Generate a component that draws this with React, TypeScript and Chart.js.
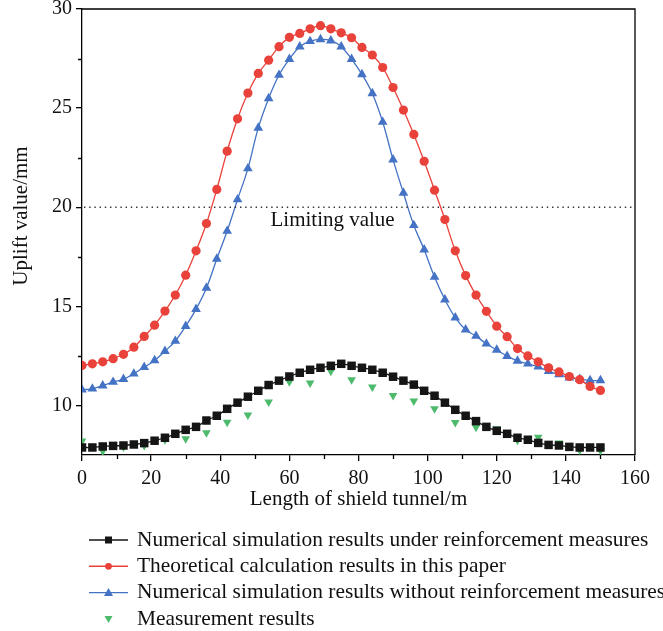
import React, { useEffect, useRef } from "react";
import { Chart, registerables } from "chart.js";

Chart.register(...registerables);

// ---- data ----
const distance = [
  0, 3, 6, 9, 12, 15, 18, 21, 24, 27, 30, 33, 36, 39, 42, 45, 48, 51, 54, 57,
  60, 63, 66, 69, 72, 75, 78, 81, 84, 87, 90, 93, 96, 99, 102, 105, 108, 111,
  114, 117, 120, 123, 126, 129, 132, 135, 138, 141, 144, 147, 150,
];
const reinforced = [
  7.88, 7.88, 7.93, 7.96, 7.98, 8.03, 8.1, 8.22, 8.37, 8.57, 8.77, 8.92, 9.24,
  9.48, 9.83, 10.14, 10.44, 10.74, 11.03, 11.25, 11.46, 11.65, 11.8, 11.9, 12.0,
  12.1, 12.0, 11.9, 11.8, 11.65, 11.45, 11.25, 11.05, 10.74, 10.49, 10.14, 9.78,
  9.48, 9.21, 8.92, 8.72, 8.57, 8.37, 8.27, 8.11, 8.01, 7.98, 7.91, 7.88, 7.88,
  7.88,
];
const theoretical = [
  12.02, 12.1, 12.2, 12.36, 12.58, 12.94, 13.48, 14.05, 14.76, 15.57, 16.57,
  17.8, 19.18, 20.9, 22.83, 24.46, 25.76, 26.75, 27.42, 28.1, 28.57, 28.77, 29.0,
  29.16, 29.0, 28.8, 28.55, 28.06, 27.68, 27.05, 26.04, 24.9, 23.67, 22.32,
  20.86, 19.38, 17.8, 16.55, 15.57, 14.75, 14.0, 13.47, 12.87, 12.5, 12.2, 11.9,
  11.69, 11.46, 11.3, 10.96, 10.76,
];
const unreinforced = [
  10.79, 10.84, 11.0, 11.18, 11.33, 11.6, 11.93, 12.27, 12.74, 13.25, 14.0,
  14.86, 15.93, 17.39, 18.8, 20.39, 21.95, 24.0, 25.49, 26.67, 27.47, 28.1,
  28.37, 28.47, 28.4, 28.1, 27.47, 26.7, 25.74, 24.3, 22.4, 20.72, 19.09, 17.86,
  16.48, 15.34, 14.43, 13.82, 13.5, 13.11, 12.8, 12.49, 12.25, 12.1, 11.95,
  11.73, 11.56, 11.4, 11.33, 11.26, 11.26,
];
const measureDistance = [
  0, 6, 12, 18, 24, 30, 36, 42, 48, 54, 60, 66, 72, 78, 84, 90, 96, 102, 108,
  114, 120, 126, 132, 138, 144, 150,
];
const measured = [
  8.2, 7.7, 7.9, 7.98, 8.27, 8.32, 8.62, 9.15, 9.52, 10.17, 11.2, 11.13, 11.73,
  11.3, 10.93, 10.5, 10.22, 9.83, 9.14, 8.9, 8.82, 8.25, 8.4, 8.1, 7.75, 7.73,
];
const xTicks = [0, 20, 40, 60, 80, 100, 120, 140, 160];
const xMinorTicks = [10, 30, 50, 70, 90, 110, 130, 150];
const yTicks = [10, 15, 20, 25, 30];
const yMinorTicks = [12.5, 17.5, 22.5, 27.5];
const limitValue = 20;
const limitLabel = "Limiting value";
const limitLabelX = 72.5;
const seriesLabels = [
  "Numerical simulation results under reinforcement measures",
  "Theoretical calculation results in this paper",
  "Numerical simulation results without reinforcement measures",
  "Measurement results",
];
const xTitle = "Length of shield tunnel/m";
const yTitle = "Uplift value/mm";

const FONT = "'Liberation Serif', 'Times New Roman', serif";
const BLACK = "#151515";
const RED = "#e9423b";
const BLUE = "#4472c4";
const GREEN = "#4dba6c";

const toPoints = (xs: number[], ys: number[]) =>
  xs.map((x, i) => ({ x, y: ys[i] }));

const decorPlugin = {
  id: "decor",
  afterDraw(chart: any) {
    const { ctx, chartArea } = chart;
    const xs = chart.scales.x;
    const ys = chart.scales.y;
    ctx.save();
    // frame top & right
    ctx.strokeStyle = "#000";
    ctx.lineWidth = 1.3;
    ctx.beginPath();
    ctx.moveTo(chartArea.left, chartArea.top);
    ctx.lineTo(chartArea.right, chartArea.top);
    ctx.lineTo(chartArea.right, chartArea.bottom);
    ctx.stroke();
    // minor ticks
    ctx.beginPath();
    xMinorTicks.forEach((v) => {
      const px = Math.round(xs.getPixelForValue(v)) + 0.5;
      ctx.moveTo(px, chartArea.bottom);
      ctx.lineTo(px, chartArea.bottom + 4);
    });
    yMinorTicks.forEach((v) => {
      const py = Math.round(ys.getPixelForValue(v)) + 0.5;
      ctx.moveTo(chartArea.left, py);
      ctx.lineTo(chartArea.left - 4, py);
    });
    ctx.stroke();
    // limiting line
    const ly = ys.getPixelForValue(limitValue);
    ctx.strokeStyle = "#333";
    ctx.lineWidth = 1.4;
    ctx.setLineDash([1.4, 3.8]);
    ctx.beginPath();
    ctx.moveTo(chartArea.left + 2, ly);
    ctx.lineTo(chartArea.right - 2, ly);
    ctx.stroke();
    ctx.setLineDash([]);
    ctx.fillStyle = "#111";
    ctx.font = `21px ${FONT}`;
    ctx.textAlign = "center";
    ctx.textBaseline = "middle";
    ctx.fillText(limitLabel, xs.getPixelForValue(limitLabelX), ly + 13);

    // y title
    ctx.save();
    ctx.translate(21, 216);
    ctx.rotate(-Math.PI / 2);
    ctx.font = `21px ${FONT}`;
    ctx.textAlign = "center";
    ctx.textBaseline = "middle";
    ctx.fillText(yTitle, 0, 0);
    ctx.restore();

    // legend
    const rows = chart.data.datasets;
    const startY = 540;
    const rowH = 26.3;
    rows.forEach((ds: any, i: number) => {
      const y = startY + i * rowH;
      const x0 = 89;
      const x1 = 128;
      const mx = (x0 + x1) / 2;
      if (ds.showLine !== false) {
        ctx.strokeStyle = ds.borderColor;
        ctx.lineWidth = 1.4;
        ctx.beginPath();
        ctx.moveTo(x0, y);
        ctx.lineTo(x1, y);
        ctx.stroke();
      }
      ctx.fillStyle = ds.pointBackgroundColor;
      ctx.beginPath();
      if (ds.pointStyle === "rect") {
        ctx.rect(mx - 3.5, y - 3.5, 7, 7);
      } else if (ds.pointStyle === "circle") {
        ctx.arc(mx, y, 3.4, 0, Math.PI * 2);
      } else if (ds.pointRotation === 180) {
        ctx.moveTo(mx - 4, y - 3);
        ctx.lineTo(mx + 4, y - 3);
        ctx.lineTo(mx, y + 4);
        ctx.closePath();
      } else {
        ctx.moveTo(mx - 4.5, y + 3.5);
        ctx.lineTo(mx + 4.5, y + 3.5);
        ctx.lineTo(mx, y - 4.5);
        ctx.closePath();
      }
      ctx.fill();
      ctx.fillStyle = "#111";
      ctx.font = `21.4px ${FONT}`;
      ctx.textAlign = "left";
      ctx.textBaseline = "middle";
      ctx.fillText(ds.label, 137, y);
    });
    ctx.restore();
  },
};

export default function App() {
  const ref = useRef<HTMLCanvasElement | null>(null);
  useEffect(() => {
    document.body.style.margin = "0";
    if (!ref.current) return;
    const lineDs = (label: string, ys: number[], color: string, style: string, r: number) => ({
      label,
      data: toPoints(distance, ys),
      borderColor: color,
      backgroundColor: color,
      pointBackgroundColor: color,
      pointBorderColor: color,
      pointBorderWidth: 0,
      pointStyle: style,
      pointRadius: r,
      borderWidth: 1.3,
      tension: 0.4,
      showLine: true,
    });
    const chart = new Chart(ref.current, {
      type: "line",
      data: {
        datasets: [
          lineDs(seriesLabels[0], reinforced, BLACK, "rect", 6),
          lineDs(seriesLabels[1], theoretical, RED, "circle", 4.6),
          lineDs(seriesLabels[2], unreinforced, BLUE, "triangle", 5.6),
          {
            label: seriesLabels[3],
            data: toPoints(measureDistance, measured),
            borderColor: GREEN,
            backgroundColor: GREEN,
            pointBackgroundColor: GREEN,
            pointBorderColor: GREEN,
            pointBorderWidth: 0,
            pointStyle: "triangle",
            pointRotation: 180,
            pointRadius: 5,
            showLine: false,
          } as any,
        ],
      },
      options: {
        animation: false,
        responsive: false,
        devicePixelRatio: 1,
        layout: { padding: { left: 0, top: 9, right: 28, bottom: 119 } },
        plugins: {
          legend: { display: false },
          tooltip: { enabled: false },
        },
        scales: {
          x: {
            type: "linear",
            min: 0,
            max: 160,
            afterBuildTicks: (s: any) => {
              s.ticks = xTicks.map((v) => ({ value: v }));
            },
            afterFit: (s: any) => {
              s.height = 57;
              s.paddingLeft = 0;
              s.paddingRight = 0;
            },
            border: { display: true, color: "#000", width: 1.3 },
            grid: {
              display: true,
              drawOnChartArea: false,
              drawTicks: true,
              tickLength: 6,
              color: "#000",
              lineWidth: 1.3,
            },
            ticks: {
              color: "#111",
              font: { family: FONT, size: 20 },
              padding: 6,
              maxRotation: 0,
              autoSkip: false,
            },
            title: {
              display: true,
              text: xTitle,
              color: "#111",
              font: { family: FONT, size: 21 },
              padding: { top: 0, bottom: 0 },
            },
          },
          y: {
            type: "linear",
            min: 7.5,
            max: 30,
            afterBuildTicks: (s: any) => {
              s.ticks = yTicks.map((v) => ({ value: v }));
            },
            afterFit: (s: any) => {
              s.width = 82;
              s.paddingTop = 0;
              s.paddingBottom = 0;
            },
            border: { display: true, color: "#000", width: 1.3 },
            grid: {
              display: true,
              drawOnChartArea: false,
              drawTicks: true,
              tickLength: 6,
              color: "#000",
              lineWidth: 1.3,
            },
            ticks: {
              color: "#111",
              font: { family: FONT, size: 20 },
              padding: 4,
              autoSkip: false,
            },
            title: { display: false },
          },
        },
      },
      plugins: [decorPlugin],
    } as any);
    return () => chart.destroy();
  }, []);
  return (
    <div style={{ width: 663, height: 631 }}>
      <canvas ref={ref} width={663} height={631} style={{ display: "block" }} />
    </div>
  );
}
